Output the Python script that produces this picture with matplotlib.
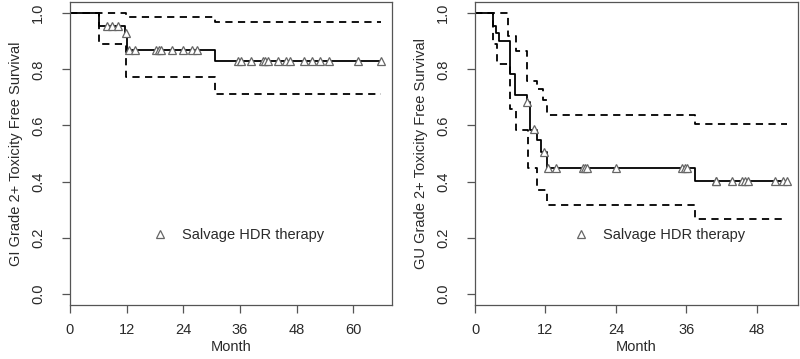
import matplotlib
matplotlib.use("Agg")
import matplotlib.pyplot as plt
from matplotlib.lines import Line2D

plt.rcParams['font.family'] = ['Liberation Sans', 'DejaVu Sans']

# GI panel: Kaplan-Meier step curve and log-log confidence band
gi_t = [0, 6.2, 11.7, 12.0, 30.8, 65.8]
gi_s = [1.0, 0.955, 0.930, 0.869, 0.829, 0.829]
gi_up_t = [0, 11.8, 30.8, 65.8]
gi_up = [1.0, 0.988, 0.970, 0.970]
gi_lo_t = [0, 6.2, 11.8, 30.8, 65.8]
gi_lo = [1.0, 0.890, 0.772, 0.711, 0.711]
gi_cens_t = [7.8, 9.0, 10.2, 11.8,
             12.5, 13.8, 18.3, 18.8, 19.3, 21.5, 24.0, 25.8, 26.8,
             35.6, 36.2, 38.3, 40.9, 41.4, 42.0, 44.1, 45.7, 46.6,
             49.6, 51.2, 52.9, 54.9, 60.9, 65.8]
gi_cens_s = [0.955, 0.955, 0.955, 0.930,
             0.869, 0.869, 0.869, 0.869, 0.869, 0.869, 0.869, 0.869, 0.869,
             0.829, 0.829, 0.829, 0.829, 0.829, 0.829, 0.829, 0.829, 0.829,
             0.829, 0.829, 0.829, 0.829, 0.829, 0.829]

# GU panel
gu_t = [0, 3.0, 3.6, 4.1, 5.9, 6.8, 8.8, 9.3, 10.5, 11.2, 12.3, 37.4, 53.1]
gu_s = [1.0, 0.955, 0.930, 0.902, 0.785, 0.707, 0.684, 0.584, 0.548,
        0.507, 0.448, 0.401, 0.401]
gu_up_t = [0, 5.7, 7.0, 8.9, 10.5, 11.6, 12.3, 37.4, 53.1]
gu_up = [1.0, 0.920, 0.867, 0.760, 0.730, 0.690, 0.637, 0.605, 0.605]
gu_lo_t = [0, 3.0, 3.7, 5.9, 7.0, 9.1, 10.6, 12.2, 37.4, 53.1]
gu_lo = [1.0, 0.890, 0.820, 0.660, 0.585, 0.450, 0.371, 0.318, 0.265, 0.265]
gu_cens_t = [8.9, 10.0, 11.8,
             12.5, 13.8, 18.4, 18.7, 19.0, 24.0, 35.3, 35.7, 36.1,
             41.0, 41.1, 43.8, 45.4, 46.0, 46.5, 51.0, 52.5, 53.1]
gu_cens_s = [0.684, 0.586, 0.507,
             0.448, 0.448, 0.448, 0.448, 0.448, 0.448, 0.448, 0.448, 0.448,
             0.401, 0.401, 0.401, 0.401, 0.401, 0.401, 0.401, 0.401, 0.401]

x_ticks = {'gi': [0, 12, 24, 36, 48, 60], 'gu': [0, 12, 24, 36, 48]}
y_ticks = [0.0, 0.2, 0.4, 0.6, 0.8, 1.0]
legend_label = "Salvage HDR therapy"

GRAY = '#555555'
TXT = '#2a2a2a'
FS = 10.5

fig = plt.figure(figsize=(8, 3.59), dpi=100)
ax1 = fig.add_axes([70/800, 54/359, 322/800, 303/359])
ax2 = fig.add_axes([475/800, 54/359, 323/800, 303/359])


def draw_panel(ax, t, s, ut, us, lt, ls, ct, cs, xmax, xt, ylabel, leg_x):
    ax.step(t, s, where='post', color='black', lw=1.3)
    ax.step(ut, us, where='post', color='black', lw=1.3, dashes=(4, 3))
    ax.step(lt, ls, where='post', color='black', lw=1.3, dashes=(4, 3))
    ax.plot(ct, cs, ls='none', marker='^', ms=6, mfc='white',
            mec='#666666', mew=0.9)
    ax.set_xlim(0, xmax)
    ax.set_ylim(-0.04, 1.04)
    ax.set_xticks(xt)
    ax.set_yticks(y_ticks)
    ax.set_yticklabels(['%.1f' % v for v in y_ticks], rotation=90, va='center')
    ax.tick_params(axis='both', direction='out', length=6, width=0.9,
                   color=GRAY, labelcolor=TXT, labelsize=FS)
    ax.tick_params(axis='y', pad=12)
    ax.tick_params(axis='x', pad=7)
    for sp in ax.spines.values():
        sp.set_color(GRAY)
        sp.set_linewidth(0.9)
    ax.set_xlabel('Month', fontsize=FS, color=TXT, labelpad=2)
    ax.set_ylabel(ylabel, fontsize=FS, color=TXT, labelpad=6)
    h = Line2D([], [], ls='none', marker='^', ms=6, mfc='white',
               mec='#666666', mew=0.9)
    ax.legend([h], [legend_label], loc='center left', frameon=False,
              bbox_to_anchor=(leg_x, 0.231), borderpad=0, handlelength=1.0,
              handletextpad=1.0, fontsize=FS, labelcolor=TXT)


draw_panel(ax1, gi_t, gi_s, gi_up_t, gi_up, gi_lo_t, gi_lo,
           gi_cens_t, gi_cens_s, 68.2, x_ticks['gi'],
           'GI Grade 2+ Toxicity Free Survival', 0.235)
draw_panel(ax2, gu_t, gu_s, gu_up_t, gu_up, gu_lo_t, gu_lo,
           gu_cens_t, gu_cens_s, 55.0, x_ticks['gu'],
           'GU Grade 2+ Toxicity Free Survival', 0.282)

fig.savefig('out.png', dpi=100)
